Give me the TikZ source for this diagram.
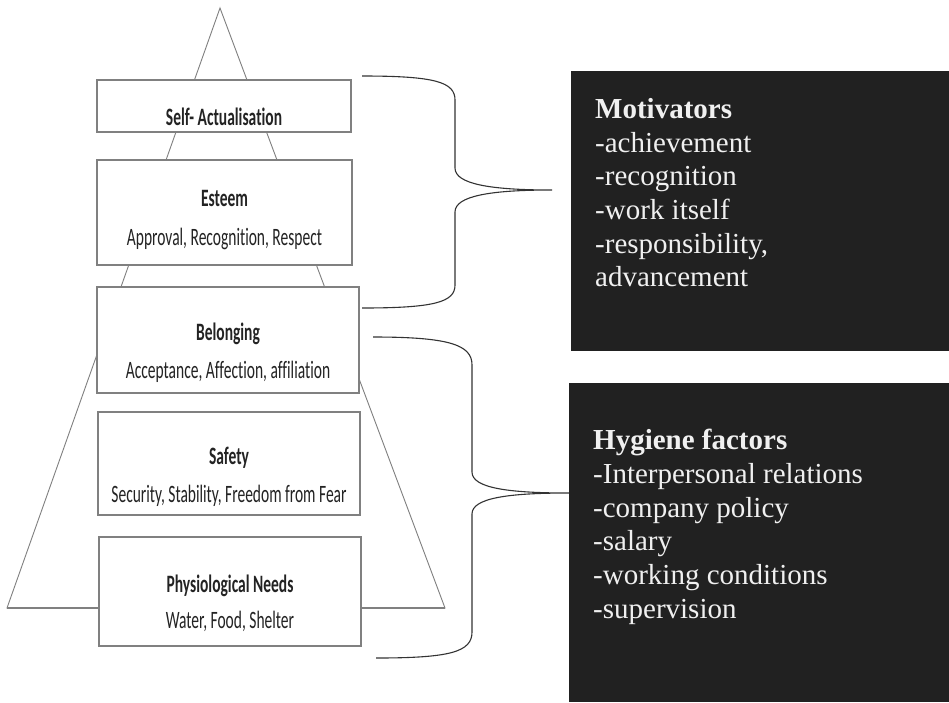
\documentclass[tikz,border=0pt]{standalone}
\usepackage{fontspec}
\setmainfont{Liberation Serif}
\newfontfamily\tierfont[FakeStretch=0.62, Ligatures=NoCommon]{Carlito}
\usetikzlibrary{positioning}
\definecolor{tierline}{RGB}{128,128,128}
\definecolor{tierink}{RGB}{35,35,35}
\definecolor{boxdark}{RGB}{33,33,33}
\definecolor{boxink}{RGB}{240,240,240}

\begin{document}
\begin{tikzpicture}[x=1pt,y=-1pt,
  tier/.style={draw=tierline, line width=1.6pt, fill=white, inner sep=0pt},
  tiertitle/.style={font=\tierfont\bfseries\fontsize{25}{28}\selectfont, text=tierink, anchor=base, inner sep=0pt},
  tiersub/.style={font=\tierfont\fontsize{25}{28}\selectfont, text=tierink, anchor=base, inner sep=0pt},
  darkbox/.style={fill=boxdark, anchor=north west, inner sep=0pt},
  darktext/.style={font=\fontsize{29}{33.7}\selectfont, text=boxink, align=left, anchor=north west, inner sep=0pt},
  brace/.style={draw=black!80, line width=1.1pt}]
  \fill[white] (0,0) rectangle (949,702);
  \useasboundingbox (0,0) rectangle (949,702);

  % pyramid behind the tiers
  \coordinate (apex) at (220,8);
  \coordinate (baseL) at (7,608);
  \coordinate (baseR) at (445,608);
  \draw[tierline, line width=0.9pt] (apex) -- (baseL) -- (baseR) -- cycle;
  \draw[tierline, line width=1.6pt] (baseL) -- (baseR);

  % tiers
  \node[tier, minimum width=254pt, minimum height=52pt] (selfact) at (224,106) {};
  \node[tier, minimum width=255pt, minimum height=105pt] (esteem) at (224.5,212.5) {};
  \node[tier, minimum width=262pt, minimum height=106pt] (belong) at (228,340) {};
  \node[tier, minimum width=262pt, minimum height=103pt] (safety) at (229,463.5) {};
  \node[tier, minimum width=262pt, minimum height=109pt] (physio) at (230,591.5) {};

  \node[tiertitle] (selfact-t) at (224,125) {Self- Actualisation};
  \node[tiertitle] (esteem-t) at (224.5,206) {Esteem};
  \node[tiersub] (esteem-s) at (224.5,245) {Approval, Recognition, Respect};
  \node[tiertitle] (belong-t) at (228,340) {Belonging};
  \node[tiersub] (belong-s) at (228,378) {Acceptance, Affection, affiliation};
  \node[tiertitle] (safety-t) at (229,464) {Safety};
  \node[tiersub] (safety-s) at (229,502) {Security, Stability, Freedom from Fear};
  \node[tiertitle] (physio-t) at (230,592) {Physiological Needs};
  \node[tiersub] (physio-s) at (230,628) {Water, Food, Shelter};

  % factor boxes
  \node[darkbox, minimum width=378pt, minimum height=280pt] (motiv) at (571,71) {};
  \node[darktext] (motiv-t) at (595,98) {\textbf{Motivators}\\-achievement\\-recognition\\-work itself\\-responsibility,\\advancement};
  \node[darkbox, minimum width=380pt, minimum height=319pt] (hyg) at (569,383) {};
  \node[darktext] (hyg-t) at (593,429) {\textbf{Hygiene factors}\\-Interpersonal relations\\-company policy\\-salary\\-working conditions\\-supervision};

  % braces
  \coordinate (mtop) at (362,76);
  \coordinate (mbot) at (362,308);
  \coordinate (mtip) at (552,190);
  \coordinate (htop) at (373,337);
  \coordinate (hbot) at (376,658);
  \coordinate (htip) at (hyg.west |- 0,493);
  \draw[brace] (mtop) .. controls (435,76) and (455,82) .. (455,100) -- (455,168)
    .. controls (455,184) and (490,190) .. (mtip)
    .. controls (490,190) and (455,196) .. (455,212) -- (455,285)
    .. controls (455,302) and (435,308) .. (mbot);
  \draw[brace] (htop) .. controls (450,337) and (472,345) .. (472,365) -- (472,472)
    .. controls (472,488) and (508,493) .. (htip)
    .. controls (508,493) and (472,498) .. (472,514) -- (472,632)
    .. controls (472,652) and (450,658) .. (hbot);
\end{tikzpicture}
\end{document}
